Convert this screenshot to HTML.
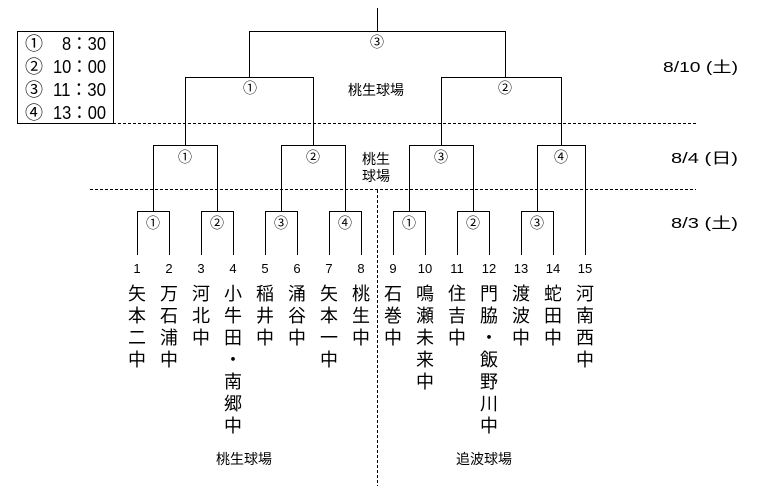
<!DOCTYPE html>
<html><head><meta charset="utf-8"><style>
html,body{margin:0;padding:0;background:#fff;}
svg{display:block;}
text{font-family:"Liberation Sans","Noto Sans CJK JP",sans-serif;fill:#000;}
.m{font-family:"Liberation Mono","Noto Sans CJK JP",monospace;}
</style></head><body>
<svg width="784" height="486" viewBox="0 0 784 486" xmlns="http://www.w3.org/2000/svg">
<g stroke="#000" stroke-width="1" fill="none" shape-rendering="crispEdges">
<rect x="17.5" y="31.5" width="96" height="92"/>
<line x1="377.5" y1="8" x2="377.5" y2="31"/>
<polyline points="249.5,77 249.5,31.5 505.5,31.5 505.5,77"/>
<polyline points="185.5,145 185.5,77.5 313.5,77.5 313.5,145"/>
<polyline points="441.5,145 441.5,77.5 561.5,77.5 561.5,145"/>
<polyline points="153.5,211 153.5,145.5 217.5,145.5 217.5,211"/>
<polyline points="281.5,211 281.5,145.5 345.5,145.5 345.5,211"/>
<polyline points="409.5,211 409.5,145.5 473.5,145.5 473.5,211"/>
<polyline points="537.5,211 537.5,145.5 585.5,145.5 585.5,255"/>
<polyline points="137.5,255 137.5,211.5 169.5,211.5 169.5,255"/>
<polyline points="201.5,255 201.5,211.5 233.5,211.5 233.5,255"/>
<polyline points="265.5,255 265.5,211.5 297.5,211.5 297.5,255"/>
<polyline points="329.5,255 329.5,211.5 361.5,211.5 361.5,255"/>
<polyline points="393.5,255 393.5,211.5 425.5,211.5 425.5,255"/>
<polyline points="457.5,255 457.5,211.5 489.5,211.5 489.5,255"/>
<polyline points="521.5,255 521.5,211.5 553.5,211.5 553.5,255"/>
<line x1="113" y1="123.5" x2="698" y2="123.5" stroke-dasharray="3,2"/>
<line x1="90" y1="189.5" x2="696" y2="189.5" stroke-dasharray="3,2"/>
<line x1="377.5" y1="190" x2="377.5" y2="486" stroke-dasharray="3,2"/>
</g>
<g font-size="18">
<text x="25" y="50">①</text><text x="25" y="73">②</text><text x="25" y="96">③</text><text x="25" y="119">④</text>
</g>
<g font-size="18" class="m">
<text x="62" y="50" textLength="44" lengthAdjust="spacingAndGlyphs">8：30</text>
<text x="53" y="73" textLength="53" lengthAdjust="spacingAndGlyphs">10：00</text>
<text x="53" y="96" textLength="53" lengthAdjust="spacingAndGlyphs">11：30</text>
<text x="53" y="119" textLength="53" lengthAdjust="spacingAndGlyphs">13：00</text>
</g>
<g font-size="14" text-anchor="middle">
<text x="377" y="47">③</text>
<text x="250" y="93">①</text><text x="505" y="93">②</text>
<text x="185" y="162">①</text><text x="313" y="162">②</text><text x="441" y="162">③</text><text x="561" y="162">④</text>
<text x="153" y="228">①</text><text x="217" y="228">②</text><text x="281" y="228">③</text><text x="345" y="228">④</text>
<text x="409" y="228">①</text><text x="473" y="228">②</text><text x="537" y="228">③</text>
</g>
<g font-size="14">
<text x="348" y="95">桃生球場</text>
<text x="362" y="164">桃生</text><text x="362" y="181">球場</text>
<text x="216" y="464">桃生球場</text>
<text x="456" y="464">追波球場</text>
</g>
<g font-size="15">
<text x="663" y="72" textLength="75" lengthAdjust="spacingAndGlyphs">8/10 (土)</text>
<text x="671" y="163" textLength="67" lengthAdjust="spacingAndGlyphs">8/4 (日)</text>
<text x="671" y="228" textLength="67" lengthAdjust="spacingAndGlyphs">8/3 (土)</text>
</g>
<g font-size="13" text-anchor="middle">
<text x="137" y="273">1</text><text x="169" y="273">2</text><text x="201" y="273">3</text><text x="233" y="273">4</text>
<text x="265" y="273">5</text><text x="297" y="273">6</text><text x="329" y="273">7</text><text x="361" y="273">8</text>
<text x="393" y="273">9</text><text x="425" y="273">10</text><text x="457" y="273">11</text><text x="489" y="273">12</text>
<text x="521" y="273">13</text><text x="553" y="273">14</text><text x="585" y="273">15</text>
</g>
<g font-size="18" text-anchor="middle">
<text x="137" y="300">矢</text><text x="137" y="322">本</text><text x="137" y="344">二</text><text x="137" y="366">中</text>
<text x="169" y="300">万</text><text x="169" y="322">石</text><text x="169" y="344">浦</text><text x="169" y="366">中</text>
<text x="201" y="300">河</text><text x="201" y="322">北</text><text x="201" y="344">中</text>
<text x="233" y="300">小</text><text x="233" y="322">牛</text><text x="233" y="344">田</text><text x="233" y="366">・</text><text x="233" y="388">南</text><text x="233" y="410">郷</text><text x="233" y="432">中</text>
<text x="265" y="300">稲</text><text x="265" y="322">井</text><text x="265" y="344">中</text>
<text x="297" y="300">涌</text><text x="297" y="322">谷</text><text x="297" y="344">中</text>
<text x="329" y="300">矢</text><text x="329" y="322">本</text><text x="329" y="344">一</text><text x="329" y="366">中</text>
<text x="361" y="300">桃</text><text x="361" y="322">生</text><text x="361" y="344">中</text>
<text x="393" y="300">石</text><text x="393" y="322">巻</text><text x="393" y="344">中</text>
<text x="425" y="300">鳴</text><text x="425" y="322">瀬</text><text x="425" y="344">未</text><text x="425" y="366">来</text><text x="425" y="388">中</text>
<text x="457" y="300">住</text><text x="457" y="322">吉</text><text x="457" y="344">中</text>
<text x="489" y="300">門</text><text x="489" y="322">脇</text><text x="489" y="344">・</text><text x="489" y="366">飯</text><text x="489" y="388">野</text><text x="489" y="410">川</text><text x="489" y="432">中</text>
<text x="521" y="300">渡</text><text x="521" y="322">波</text><text x="521" y="344">中</text>
<text x="553" y="300">蛇</text><text x="553" y="322">田</text><text x="553" y="344">中</text>
<text x="585" y="300">河</text><text x="585" y="322">南</text><text x="585" y="344">西</text><text x="585" y="366">中</text>
</g>
</svg>
</body></html>
